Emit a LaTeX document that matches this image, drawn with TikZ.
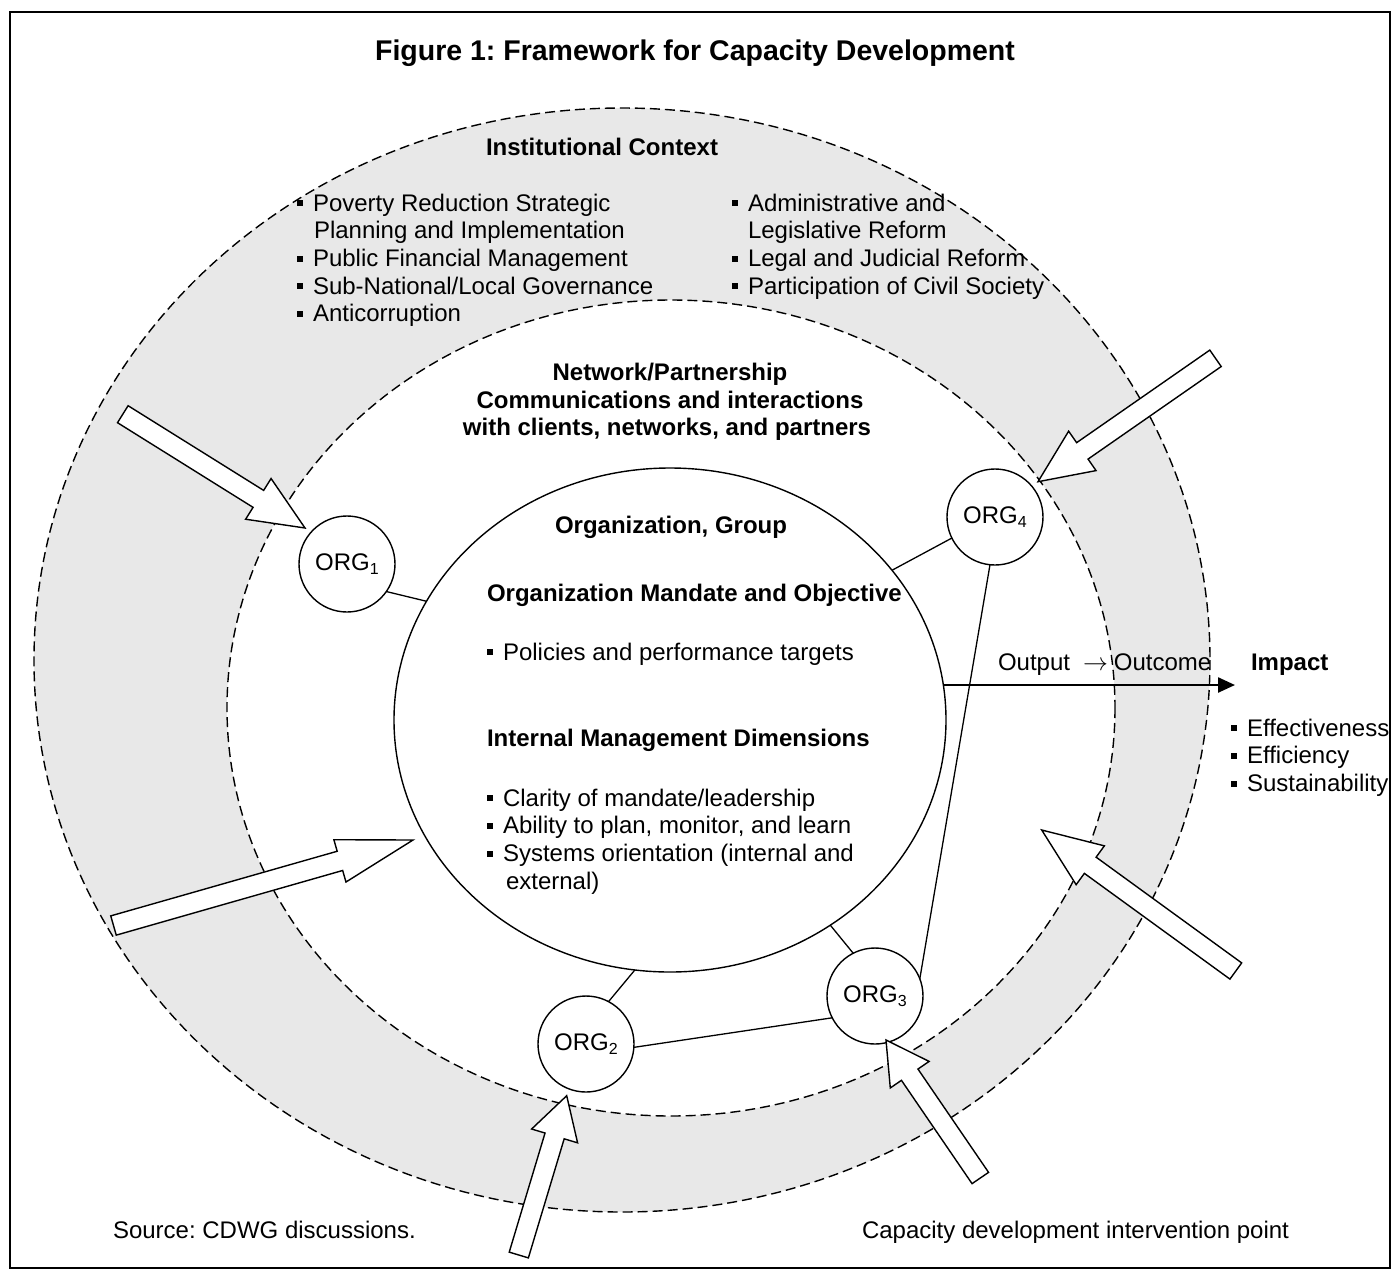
\documentclass[tikz,border=0pt]{standalone}
\usepackage{fontspec}
\setmainfont{Liberation Sans}
\usetikzlibrary{shapes.geometric,arrows.meta,calc}
\definecolor{ringgray}{RGB}{232,232,232}
\frenchspacing
\newcommand\bul{\makebox[16pt][l]{\rule[4.8pt]{6pt}{6pt}}}
\newcommand\orgtxt[1]{ORG\raisebox{-4pt}{\fontsize{16}{16}\selectfont #1}}
\newcommand\vlist[1]{\vtop{\baselineskip=27.7pt\lineskiplimit=-20pt\lineskip=0pt #1}}
\newcommand\blockarrow[5]{%
  \coordinate (bah) at ($(#2)!#5!(#1)$);
  \draw[blockarr] ($(#1)!#3!90:(#2)$) -- ($(bah)!#3!90:(#2)$) -- ($(bah)!#4!90:(#2)$) -- (#2)
    -- ($(bah)!#4!-90:(#2)$) -- ($(bah)!#3!-90:(#2)$) -- ($(#1)!#3!-90:(#2)$) -- cycle;}
\begin{document}
\begin{tikzpicture}[x=1pt,y=-1pt,
  every node/.style={inner sep=0pt, outer sep=0pt},
  body/.style={font=\fontsize{24}{27.7}\selectfont},
  boldtxt/.style={font=\bfseries\fontsize{24}{27.7}\selectfont},
  dashring/.style={dash pattern=on 10pt off 5pt, line width=1.4pt},
  orgnode/.style={circle, draw, line width=1.4pt, fill=white, minimum size=96pt, body},
  conn/.style={line width=1.3pt},
  blockarr/.style={draw, fill=white, line width=1.4pt, line join=miter},
  flow/.style={line width=2.4pt, -{Triangle[length=17pt,width=15pt]}}]
\useasboundingbox (0,0) rectangle (1393,1270);
\draw[line width=1.3pt] (10,12) rectangle (1390,1268);
\node[font=\bfseries\fontsize{28.5}{34}\selectfont, anchor=base] (title) at (695,60) {Figure 1: Framework for Capacity Development};

% rings
\fill[ringgray] (622,660) ellipse (588 and 552);
\fill[white] (671,708) ellipse (444 and 408);
\draw[dashring] (622,660) ellipse (588 and 552);
\draw[dashring] (671,708) ellipse (444 and 408);

% institutional context
\node[boldtxt, anchor=base] (inst) at (602,155) {Institutional Context};
\node[body, anchor=base west] (instL) at (297,211) {\vlist{%
  \hbox{\bul Poverty Reduction Strategic}
  \hbox{\hspace*{17pt}Planning and Implementation}
  \hbox{\bul Public Financial Management}
  \hbox{\bul Sub-National/Local Governance}
  \hbox{\bul Anticorruption}}};
\node[body, anchor=base west] (instR) at (732,211) {\vlist{%
  \hbox{\bul Administrative and}
  \hbox{\hspace*{16pt}Legislative Reform}
  \hbox{\bul Legal and Judicial Reform}
  \hbox{\bul Participation of Civil Society}}};

% network
\node[boldtxt, anchor=base] (net1) at (670,380) {Network/Partnership};
\node[boldtxt, anchor=base] (net2) at (670,408) {Communications and interactions};
\node[boldtxt, anchor=base] (net3) at (667,435) {with clients, networks, and partners};

% central organization
\node[ellipse, draw, line width=1.4pt, minimum width=552pt, minimum height=504pt] (central) at (670,720) {};
\node[boldtxt, anchor=base] (orggroup) at (671,533) {Organization, Group};
\node[boldtxt, anchor=base west] (mandate) at (487,601) {Organization Mandate and Objective};
\node[body, anchor=base west] (policies) at (487,660) {\bul Policies and performance targets};
\node[boldtxt, anchor=base west] (internal) at (487,746) {Internal Management Dimensions};
\node[body, anchor=base west] (intlist) at (487,806) {\vlist{%
  \hbox{\bul Clarity of mandate/leadership}
  \hbox{\bul Ability to plan, monitor, and learn}
  \hbox{\bul Systems orientation (internal and}
  \hbox{\hspace*{19pt}external)}}};

% organizations
\node[orgnode] (org1) at (347,564) {\orgtxt{1}};
\node[orgnode] (org2) at (586,1044) {\orgtxt{2}};
\node[orgnode] (org3) at (875,996) {\orgtxt{3}};
\node[orgnode] (org4) at (995,517) {\orgtxt{4}};

\draw[conn] (org1.-35) -- (central.154);
\draw[conn] (org2.62) -- (central.-98);
\draw[conn] (org2.-4) -- (org3.207);
\draw[conn] (org3.117) -- (central.-52);
\draw[conn] (org3.21) -- (org4.-96);
\draw[conn] (org4.206) -- (central.34);

% output -> impact
\coordinate (impactpt) at (1235,685);
\draw[flow] (central.7 |- impactpt) -- (impactpt);
\node[body, anchor=base west] (output) at (998,670) {Output\hspace{13pt}$\rightarrow$\hspace{6pt}Outcome};
\node[boldtxt, anchor=base west] (impact) at (1251,670) {Impact};
\node[body, anchor=base west] (impactlist) at (1231,736) {\vlist{%
  \hbox{\bul Effectiveness}
  \hbox{\bul Efficiency}
  \hbox{\bul Sustainability}}};

% intervention arrows
\coordinate (a1t) at (122.8,414.2);  \coordinate (a1p) at (305,528);
\coordinate (a2t) at (113.5,925.5);  \coordinate (a2p) at (413,840);
\coordinate (a3t) at (1215.5,358.3); \coordinate (a3p) at (1038,481.7);
\coordinate (a4t) at (1235.8,971);   \coordinate (a4p) at (1041.7,830);
\coordinate (a5t) at (980.3,1178);   \coordinate (a5p) at (886,1040);
\coordinate (a6t) at (518.8,1255);   \coordinate (a6p) at (566.7,1095.7);
\blockarrow{a1t}{a1p}{10pt}{24pt}{55pt}
\blockarrow{a2t}{a2p}{10pt}{22pt}{76pt}
\blockarrow{a3t}{a3p}{10pt}{24pt}{54pt}
\blockarrow{a4t}{a4p}{10pt}{24pt}{60pt}
\blockarrow{a5t}{a5p}{10pt}{23.5pt}{42pt}
\blockarrow{a6t}{a6p}{10pt}{24pt}{42pt}

% footer
\node[body, anchor=base west] (source) at (113,1238) {Source: CDWG discussions.};
\node[body, anchor=base west] (cdip) at (862,1238) {Capacity development intervention point};
\end{tikzpicture}
\end{document}
